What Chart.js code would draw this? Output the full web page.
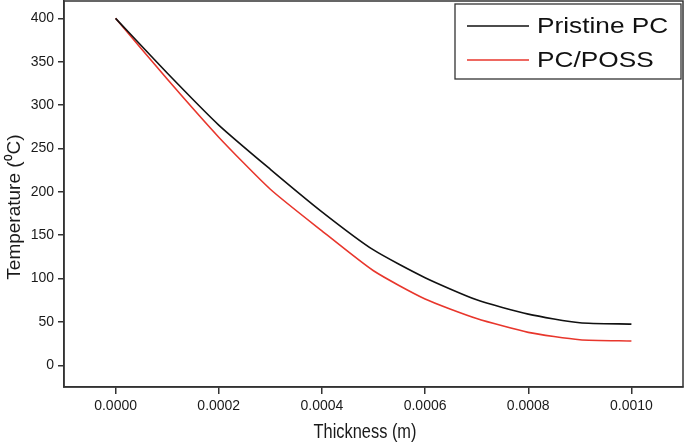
<!DOCTYPE html>
<html>
<head>
<meta charset="utf-8">
<script src="https://cdn.jsdelivr.net/npm/chart.js@4/dist/chart.umd.min.js"></script>
<style>
html,body{margin:0;padding:0;background:#fff;}
#wrap{width:685px;height:443px;position:relative;}
</style>
</head>
<body>
<div id="wrap"><canvas id="c" width="685" height="443"></canvas></div>
<script>
const thickness = [0, 0.0001, 0.0002, 0.0003, 0.0004, 0.0005, 0.0006, 0.0007, 0.0008, 0.0009, 0.0010];
const pristinePC = [400, 337, 277, 226, 177, 133, 101, 75.5, 59, 49, 47.5];
const pcPoss = [400, 330, 263, 203, 155, 109, 76.5, 54, 38, 29.5, 28];
const xTicks = [0, 0.0002, 0.0004, 0.0006, 0.0008, 0.0010];
const yTicks = [0, 50, 100, 150, 200, 250, 300, 350, 400];
const seriesNames = ['Pristine PC', 'PC/POSS'];
const xTitle = 'Thickness (m)';
const yTitle = 'Temperature (\u2070C)';

const FONT = '"Liberation Sans", Arial, Helvetica, sans-serif';
const colors = ['#111111', '#e8362c'];

const toXY = (xs, ys) => xs.map((x, i) => ({x: x, y: ys[i]}));

const framePlugin = {
  id: 'frame',
  afterDraw(chart) {
    const {ctx, chartArea: a} = chart;
    ctx.save();
    ctx.strokeStyle = '#333';
    ctx.lineWidth = 1.5;
    ctx.strokeRect(a.left, a.top, a.right - a.left, a.bottom - a.top);
    // axis titles
    ctx.fillStyle = '#1a1a1a';
    ctx.textAlign = 'center';
    ctx.textBaseline = 'middle';
    ctx.save();
    ctx.translate(365, 433);
    ctx.scale(1, 1.2);
    ctx.font = '16.4px ' + FONT;
    ctx.fillText(xTitle, 0, 0);
    ctx.restore();
    ctx.save();
    ctx.translate(15, 207);
    ctx.rotate(-Math.PI / 2);
    ctx.font = '19px ' + FONT;
    ctx.fillText(yTitle, 0, 0);
    ctx.restore();
    // legend
    const bx = 455, by = 4, bw = 226, bh = 75;
    ctx.fillStyle = '#fff';
    ctx.fillRect(bx, by, bw, bh);
    ctx.strokeStyle = '#333';
    ctx.lineWidth = 1.3;
    ctx.strokeRect(bx, by, bw, bh);
    const rows = [26, 60];
    chart.data.datasets.forEach((ds, i) => {
      const y = rows[i];
      ctx.strokeStyle = ds.borderColor;
      ctx.lineWidth = 1.5;
      ctx.beginPath();
      ctx.moveTo(467, y);
      ctx.lineTo(529, y);
      ctx.stroke();
      ctx.save();
      ctx.translate(537, y + 1);
      ctx.scale(1.28, 1.05);
      ctx.fillStyle = '#111';
      ctx.font = '20.5px ' + FONT;
      ctx.textBaseline = 'middle';
      ctx.textAlign = 'left';
      ctx.fillText(ds.label, 0, 0);
      ctx.restore();
    });
    ctx.restore();
  }
};

new Chart(document.getElementById('c'), {
  type: 'line',
  data: {
    datasets: [
      {label: seriesNames[0], data: toXY(thickness, pristinePC), borderColor: colors[0], borderWidth: 1.6, pointRadius: 0, tension: 0.2, fill: false},
      {label: seriesNames[1], data: toXY(thickness, pcPoss), borderColor: colors[1], borderWidth: 1.6, pointRadius: 0, tension: 0.2, fill: false}
    ]
  },
  options: {
    responsive: false,
    animation: false,
    devicePixelRatio: 1,
    layout: {padding: {top: 1, right: 2, left: 0, bottom: 0}},
    plugins: {legend: {display: false}, tooltip: {enabled: false}},
    scales: {
      x: {
        type: 'linear',
        min: -0.0001,
        max: 0.0011,
        afterBuildTicks: s => { s.ticks = xTicks.map(v => ({value: v})); },
        afterFit: s => { s.height = 56; s.paddingLeft = 0; s.paddingRight = 0; },
        ticks: {
          color: '#1a1a1a',
          font: {family: FONT, size: 14},
          padding: 4,
          maxRotation: 0,
          callback: v => Number(v).toFixed(4)
        },
        grid: {display: true, drawOnChartArea: false, drawTicks: true, tickLength: 7, color: '#333', lineWidth: 1.5},
        border: {display: true, color: '#333', width: 1.5},
        title: {display: false}
      },
      y: {
        type: 'linear',
        min: -25,
        max: 420,
        afterBuildTicks: s => { s.ticks = yTicks.map(v => ({value: v})); },
        afterFit: s => { s.width = 64; s.paddingTop = 0; s.paddingBottom = 0; },
        ticks: {
          color: '#1a1a1a',
          font: {family: FONT, size: 14},
          padding: 4
        },
        grid: {display: true, drawOnChartArea: false, drawTicks: true, tickLength: 6, color: '#333', lineWidth: 1.5},
        border: {display: true, color: '#333', width: 1.5},
        title: {display: false}
      }
    }
  },
  plugins: [framePlugin]
});
</script>
</body>
</html>
